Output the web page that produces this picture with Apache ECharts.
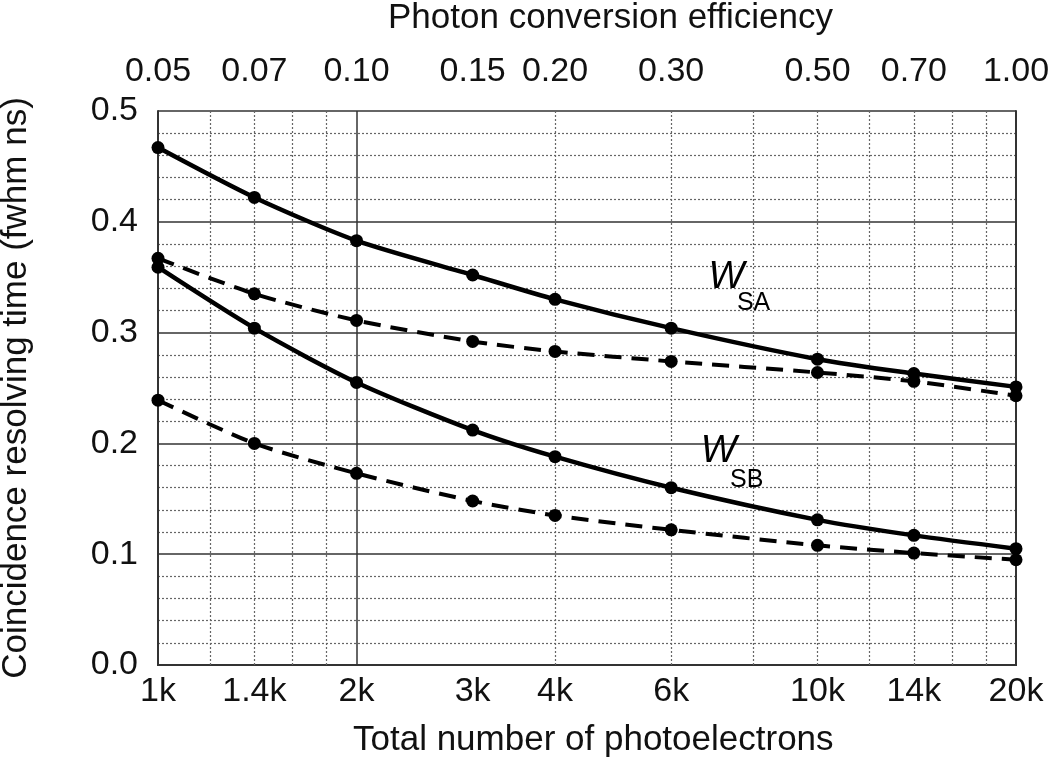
<!DOCTYPE html>
<html>
<head>
<meta charset="utf-8">
<script src="https://cdn.jsdelivr.net/npm/echarts@6/dist/echarts.min.js"></script>
<style>
html,body{margin:0;padding:0;background:#fff;}
#chart{width:1050px;height:757px;}
</style>
</head>
<body>
<div id="chart"></div>
<script>
// ---- data ----
var photoelectrons = [1000, 1400, 2000, 3000, 4000, 6000, 10000, 14000, 20000];
var wsaSolid  = [0.467, 0.422, 0.383, 0.352, 0.330, 0.304, 0.276, 0.263, 0.251];
var wsaDashed = [0.367, 0.335, 0.311, 0.292, 0.283, 0.274, 0.264, 0.256, 0.243];
var wsbSolid  = [0.359, 0.304, 0.255, 0.212, 0.188, 0.160, 0.131, 0.117, 0.105];
var wsbDashed = [0.239, 0.200, 0.173, 0.148, 0.135, 0.122, 0.108, 0.101, 0.095];
var bottomTickValues = [1000, 1400, 2000, 3000, 4000, 6000, 10000, 14000, 20000];
var bottomTickLabels = ['1k', '1.4k', '2k', '3k', '4k', '6k', '10k', '14k', '20k'];
var topTickLabels = ['0.05', '0.07', '0.10', '0.15', '0.20', '0.30', '0.50', '0.70', '1.00'];
var dottedGridX = [1200, 1400, 1600, 1800, 4000, 6000, 8000, 10000, 12000, 14000, 16000, 18000];
var solidGridX = [2000];

function pairs(ys) { return photoelectrons.map(function (x, i) { return [x, ys[i]]; }); }

var FONT = 'Liberation Sans';
var TXT = '#111';
var FS = 34;
var TITLE_FS = 35;

var chart = echarts.init(document.getElementById('chart'), null, {renderer: 'canvas'});

var gridLines = [];
dottedGridX.forEach(function (v) {
  gridLines.push({xAxis: v, lineStyle: {type: [2, 2], color: '#666', width: 1.2}});
});
solidGridX.forEach(function (v) {
  gridLines.push({xAxis: v, lineStyle: {type: 'solid', color: '#333', width: 1.5}});
});

function lineSeries(name, ys, dashed) {
  return {
    name: name,
    type: 'line',
    xAxisIndex: 0,
    yAxisIndex: 0,
    data: pairs(ys),
    smooth: 0.25,
    symbol: 'circle',
    symbolSize: 13,
    itemStyle: {color: '#000'},
    lineStyle: {color: '#000', width: dashed ? 4 : 4.5, type: dashed ? [17, 10] : 'solid'},
    z: 5,
    silent: true
  };
}

function annot(x, y, text, size, italic) {
  return {
    value: [x, y],
    label: {
      show: true, formatter: text, position: 'inside',
      fontFamily: FONT, fontSize: size, fontStyle: italic ? 'italic' : 'normal',
      color: '#000', opacity: 1
    }
  };
}

var option = {
  animation: false,
  backgroundColor: '#fff',
  grid: {left: 158, right: 34, top: 111, bottom: 92, containLabel: false, outerBoundsMode: 'none'},
  title: [
    {text: 'Photon conversion efficiency', left: 383, top: -4,
     textStyle: {fontFamily: FONT, fontSize: TITLE_FS, fontWeight: 'normal', color: TXT}},
    {text: 'Total number of photoelectrons', left: 348, top: 718,
     textStyle: {fontFamily: FONT, fontSize: TITLE_FS, fontWeight: 'normal', color: TXT}}
  ],
  xAxis: [
    {
      type: 'log', logBase: 10, min: 1000, max: 20000, position: 'bottom',
      axisLine: {show: true, lineStyle: {color: '#333', width: 2}},
      axisTick: {show: false},
      splitLine: {show: false},
      minorSplitLine: {show: false},
      axisLabel: {
        show: true, customValues: bottomTickValues, margin: 10,
        fontFamily: FONT, fontSize: FS, color: TXT,
        formatter: function (v) {
          var i = bottomTickValues.indexOf(Math.round(v));
          return i >= 0 ? bottomTickLabels[i] : '';
        }
      }
    },
    {
      type: 'log', logBase: 10, min: 1000, max: 20000, position: 'top',
      axisLine: {show: true, lineStyle: {color: '#333', width: 2}},
      axisTick: {show: false},
      splitLine: {show: false},
      axisLabel: {
        show: true, customValues: bottomTickValues, margin: 22,
        fontFamily: FONT, fontSize: FS, color: TXT,
        formatter: function (v) {
          var i = bottomTickValues.indexOf(Math.round(v));
          return i >= 0 ? topTickLabels[i] : '';
        }
      }
    }
  ],
  yAxis: [
    {
      type: 'value', min: 0, max: 0.5, interval: 0.1, position: 'left',
      name: 'Coincidence resolving time (fwhm ns)',
      nameLocation: 'middle', nameRotate: 90, nameGap: 124,
      nameTextStyle: {fontFamily: FONT, fontSize: TITLE_FS, color: TXT},
      axisLine: {show: true, lineStyle: {color: '#333', width: 2}},
      axisTick: {show: false},
      axisLabel: {
        margin: 20, fontFamily: FONT, fontSize: FS, color: TXT,
        formatter: function (v) { return v.toFixed(1); }
      },
      splitLine: {show: true, lineStyle: {color: '#333', width: 1.5}},
      minorTick: {show: false, splitNumber: 5},
      minorSplitLine: {show: true, lineStyle: {color: '#666', width: 1.2, type: [2, 2]}}
    },
    {
      type: 'value', min: 0, max: 0.5, interval: 0.1, position: 'right',
      axisLine: {show: true, lineStyle: {color: '#333', width: 2}},
      axisTick: {show: false}, axisLabel: {show: false}, splitLine: {show: false}
    }
  ],
  series: [
    {
      type: 'line', xAxisIndex: 0, yAxisIndex: 0, data: pairs(wsaSolid),
      symbol: 'none', lineStyle: {opacity: 0}, z: 1, silent: true,
      markLine: {silent: true, symbol: 'none', label: {show: false}, animation: false, data: gridLines}
    },
    lineSeries('WSA', wsaSolid, false),
    lineSeries('WSA dashed', wsaDashed, true),
    lineSeries('WSB', wsbSolid, false),
    lineSeries('WSB dashed', wsbDashed, true),
    {
      type: 'scatter', xAxisIndex: 0, yAxisIndex: 0, symbolSize: 0, silent: true, z: 6,
      itemStyle: {opacity: 1, color: '#000'},
      data: [
        annot(7280, 0.350, 'W', 38, true),
        annot(8000, 0.3267, 'SA', 25, false),
        annot(7080, 0.193, 'W', 38, true),
        annot(7810, 0.167, 'SB', 25, false)
      ]
    }
  ]
};

chart.setOption(option);
</script>
</body>
</html>
